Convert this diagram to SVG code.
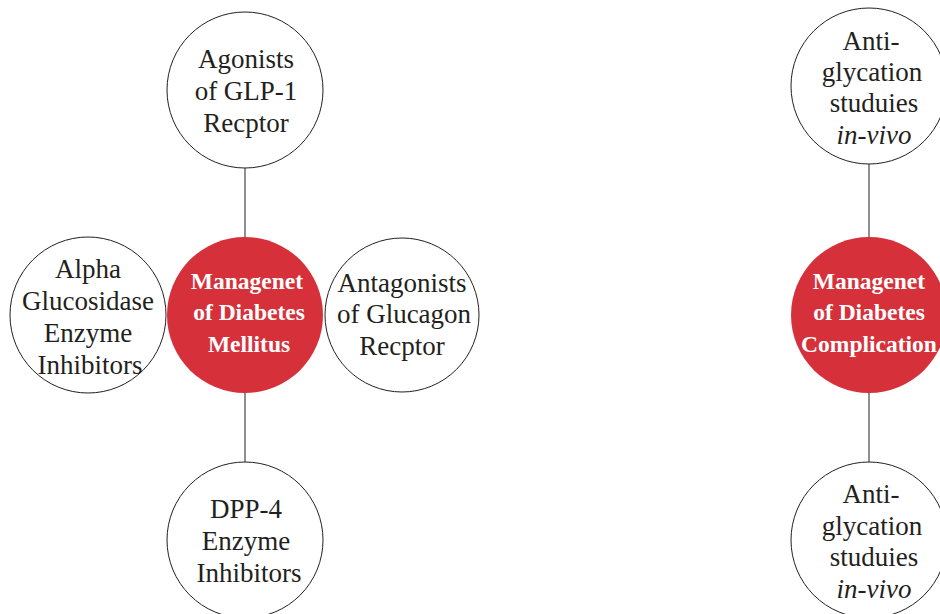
<svg xmlns="http://www.w3.org/2000/svg" width="940" height="614" viewBox="0 0 940 614">
  <style>
    .node { fill: #ffffff; stroke: #231f20; stroke-width: 1; }
    .hub { fill: #d6313a; stroke: none; }
    .lbl { font-family: "Liberation Serif", "Times New Roman", serif; font-size: 27px; fill: #231f20; text-anchor: middle; }
    .hubl { font-family: "Liberation Serif", "Times New Roman", serif; font-size: 23.5px; font-weight: bold; fill: #ffffff; text-anchor: middle; }
    .it { font-style: italic; }
    .conn { stroke: #231f20; stroke-width: 1; fill: none; }
  </style>
  <rect width="940" height="614" fill="#ffffff"/>

  <!-- connectors -->
  <g id="connectors">
    <line class="conn" x1="245" y1="168" x2="245" y2="237"/>
    <line class="conn" x1="245" y1="393" x2="245" y2="462"/>
    <line class="conn" x1="869" y1="164" x2="869" y2="237"/>
    <line class="conn" x1="869" y1="393" x2="869" y2="462"/>
  </g>

  <!-- left cluster -->
  <g id="glp1">
    <circle class="node" cx="245" cy="90" r="78"/>
    <text class="lbl" x="246" y="68">Agonists</text>
    <text class="lbl" x="246" y="100">of GLP-1</text>
    <text class="lbl" x="246" y="132">Recptor</text>
  </g>

  <g id="alpha">
    <circle class="node" cx="88" cy="315" r="78"/>
    <text class="lbl" x="88" y="278">Alpha</text>
    <text class="lbl" x="88" y="310">Glucosidase</text>
    <text class="lbl" x="88" y="342">Enzyme</text>
    <text class="lbl" x="90" y="374">Inhibitors</text>
  </g>

  <g id="glucagon">
    <circle class="node" cx="402" cy="315" r="77"/>
    <text class="lbl" x="402" y="292">Antagonists</text>
    <text class="lbl" x="404" y="323">of Glucagon</text>
    <text class="lbl" x="402" y="355">Recptor</text>
  </g>

  <g id="dpp4">
    <circle class="node" cx="245" cy="540" r="78"/>
    <text class="lbl" x="246" y="518">DPP-4</text>
    <text class="lbl" x="246" y="550">Enzyme</text>
    <text class="lbl" x="249" y="582">Inhibitors</text>
  </g>

  <g id="mellitus">
    <circle class="hub" cx="245" cy="315" r="78"/>
    <text class="hubl" x="247" y="289">Managenet</text>
    <text class="hubl" x="249" y="320">of Diabetes</text>
    <text class="hubl" x="249" y="352">Mellitus</text>
  </g>

  <!-- right cluster -->
  <g id="invivo-top">
    <circle class="node" cx="869" cy="86" r="78"/>
    <text class="lbl" x="871" y="50">Anti-</text>
    <text class="lbl" x="872" y="81">glycation</text>
    <text class="lbl" x="874" y="112">studuies</text>
    <text class="lbl it" x="874" y="144">in-vivo</text>
  </g>

  <g id="complication">
    <circle class="hub" cx="869" cy="315" r="78"/>
    <text class="hubl" x="869" y="289">Managenet</text>
    <text class="hubl" x="869" y="320">of Diabetes</text>
    <text class="hubl" x="869" y="352">Complication</text>
  </g>

  <g id="invivo-bottom">
    <circle class="node" cx="869" cy="540" r="78"/>
    <text class="lbl" x="871" y="503">Anti-</text>
    <text class="lbl" x="872" y="535">glycation</text>
    <text class="lbl" x="874" y="566">studuies</text>
    <text class="lbl it" x="874" y="598">in-vivo</text>
  </g>
</svg>
